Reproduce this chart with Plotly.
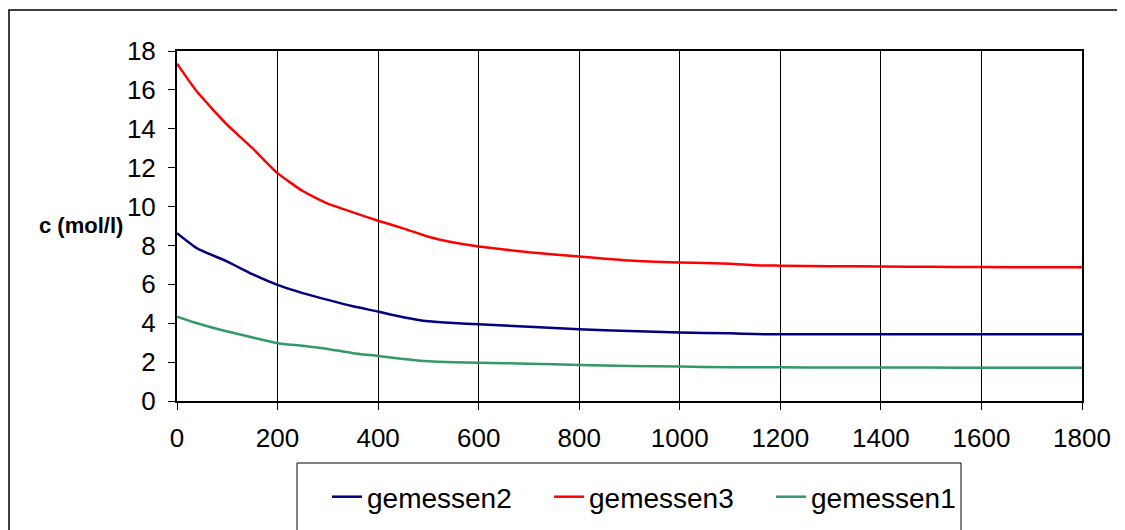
import plotly.graph_objects as go

time_s = [0, 40, 100, 150, 200, 250, 300, 350, 400, 450, 500, 550, 600, 700,
          800, 900, 1000, 1100, 1150, 1200, 1300, 1400, 1500, 1600, 1700, 1800]
gemessen2 = [8.63, 7.85, 7.17, 6.52, 5.97, 5.55, 5.2, 4.87, 4.6, 4.31, 4.1, 4.01, 3.95, 3.82,
             3.69, 3.6, 3.52, 3.48, 3.44, 3.43, 3.43, 3.43, 3.43, 3.43, 3.43, 3.43]
gemessen3 = [17.35, 15.9, 14.2, 13.0, 11.72, 10.8, 10.15, 9.7, 9.27, 8.88, 8.45, 8.15, 7.95, 7.65,
             7.43, 7.22, 7.12, 7.06, 6.98, 6.96, 6.93, 6.92, 6.90, 6.89, 6.88, 6.88]
gemessen1 = [4.34, 4.0, 3.57, 3.27, 2.97, 2.84, 2.68, 2.46, 2.32, 2.16, 2.04, 1.99, 1.97, 1.92,
             1.85, 1.8, 1.77, 1.74, 1.73, 1.73, 1.72, 1.72, 1.72, 1.71, 1.71, 1.71]

series = [
    ("gemessen2", gemessen2, "#000080"),
    ("gemessen3", gemessen3, "#FF0000"),
    ("gemessen1", gemessen1, "#339966"),
]

FONT = "Liberation Sans, Arial, sans-serif"

fig = go.Figure()
for name, vals, col in series:
    fig.add_trace(go.Scatter(x=time_s, y=vals, mode="lines", name=name,
                             line=dict(color=col, width=2.5, shape="spline", smoothing=0.5)))

OFF = 8  # page body margin
W, H = 1125, 530
L, R, T, B = 177 - OFF, 1082 - OFF, 51 - OFF, 401 - OFF
pw, ph = R - L, B - T

def px(x):
    return (x - OFF - L) / pw

def py(y):
    return (B - (y - OFF)) / ph

fig.update_layout(
    width=W, height=H,
    margin=dict(l=L, r=W - R, t=T, b=H - B, pad=0),
    paper_bgcolor="white", plot_bgcolor="white",
    font=dict(family=FONT, size=26, color="black"),
    showlegend=True,
    legend=dict(orientation="h", x=px(327), xanchor="left", y=py(497), yanchor="middle",
                font=dict(size=28), bgcolor="rgba(0,0,0,0)", borderwidth=0,
                entrywidth=177, entrywidthmode="pixels"),
    xaxis=dict(range=[0, 1800], tickvals=[0, 200, 400, 600, 800, 1000, 1200, 1400, 1600, 1800],
               showgrid=True, gridcolor="black", gridwidth=1,
               showline=True, linecolor="black", linewidth=1.5, mirror=True,
               ticks="outside", ticklen=7, tickcolor="black", zeroline=False,
               ticklabelstandoff=6, tickfont=dict(size=26)),
    yaxis=dict(range=[0, 18], tickvals=list(range(0, 19, 2)),
               showgrid=False, showline=True, linecolor="black", linewidth=2, mirror=True,
               ticks="outside", ticklen=7, tickcolor="black", zeroline=False,
               ticklabelstandoff=7, tickfont=dict(size=26)),
    shapes=[
        dict(type="rect", xref="paper", yref="paper", x0=px(9), x1=px(1150), y0=py(10), y1=py(570),
             line=dict(color="black", width=1.5), fillcolor="rgba(0,0,0,0)", layer="below"),
        dict(type="rect", xref="paper", yref="paper", x0=px(297), x1=px(961), y0=py(463), y1=py(570),
             line=dict(color="black", width=1), fillcolor="rgba(0,0,0,0)", layer="below"),
    ],
    annotations=[
        dict(text="<b>c (mol/l)</b>", xref="paper", yref="paper", x=px(81), y=py(225),
             xanchor="center", yanchor="middle", showarrow=False, font=dict(size=22)),
    ],
)

fig.write_html("out.html")
